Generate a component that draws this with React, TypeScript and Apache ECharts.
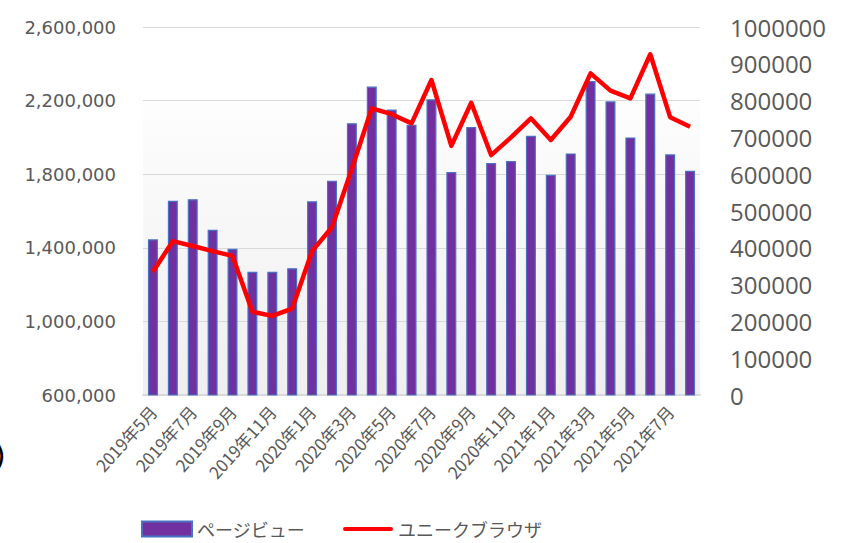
import React, { useEffect, useRef } from "react";
import * as echarts from "echarts";

const categories = [
  "2019年5月", "2019年6月", "2019年7月", "2019年8月", "2019年9月", "2019年10月", "2019年11月", "2019年12月",
  "2020年1月", "2020年2月", "2020年3月", "2020年4月", "2020年5月", "2020年6月", "2020年7月", "2020年8月",
  "2020年9月", "2020年10月", "2020年11月", "2020年12月", "2021年1月", "2021年2月", "2021年3月", "2021年4月",
  "2021年5月", "2021年6月", "2021年7月", "2021年8月",
];

const pageViews = [
  1446000, 1656000, 1664000, 1498000, 1395000, 1270000, 1270000, 1289000,
  1653000, 1765000, 2077000, 2276000, 2151000, 2069000, 2207000, 1812000,
  2056000, 1861000, 1872000, 2009000, 1797000, 1913000, 2306000, 2196000,
  2000000, 2238000, 1908000, 1819000,
];

const uniqueBrowsers = [
  335000, 418000, 405000, 391000, 378000, 226000, 215000, 235000,
  391000, 456000, 615000, 779000, 763000, 738000, 856000, 677000,
  794000, 652000, 700000, 752000, 693000, 756000, 874000, 827000,
  806000, 926000, 755000, 729000,
];

const seriesNames = ["ページビュー", "ユニークブラウザ"];

export default function App() {
  const ref = useRef<HTMLDivElement>(null);
  useEffect(() => {
    if (!ref.current) return;
    const chart = echarts.init(ref.current, null, { renderer: "svg" });
    chart.setOption({
      animation: false,
      backgroundColor: "#ffffff",
      grid: {
        left: 143,
        right: 148,
        top: 27,
        bottom: 148,
        show: true,
        borderWidth: 0,
        backgroundColor: {
          type: "linear",
          x: 0, y: 0, x2: 0, y2: 1,
          colorStops: [
            { offset: 0, color: "#ffffff" },
            { offset: 0.2, color: "#ffffff" },
            { offset: 0.201, color: "#fdfdfd" },
            { offset: 1, color: "#efefef" },
          ],
        },
      },
      legend: {
        left: 136,
        top: 515,
        itemWidth: 50,
        itemHeight: 15,
        itemGap: 38,
        textStyle: { fontSize: 18, color: "#595959", fontFamily: "Noto Sans CJK JP" },
        data: [
          { name: seriesNames[0], icon: "rect" },
          {
            name: seriesNames[1],
            icon: "path://M2,0 L48,0 A2,2 0 0 1 48,4 L2,4 A2,2 0 0 1 2,0 Z",
            itemStyle: { color: "#ff0000" },
          },
        ],
      },
      xAxis: {
        type: "category",
        data: categories,
        axisLine: { lineStyle: { color: "#d9d9d9", width: 2 } },
        axisTick: { show: false },
        axisLabel: {
          interval: 1,
          rotate: 48,
          fontSize: 17,
          color: "#595959",
          fontFamily: "Noto Sans CJK JP",
          margin: 13,
        },
      },
      yAxis: [
        {
          type: "value",
          min: 600000,
          max: 2600000,
          interval: 400000,
          axisLine: { show: false },
          axisTick: { show: false },
          splitLine: { lineStyle: { color: "#d9d9d9", width: 1 } },
          axisLabel: {
            fontSize: 18,
            color: "#595959",
            fontFamily: "DejaVu Sans",
            margin: 27,
            formatter: (v: number) => v.toLocaleString("en-US"),
          },
        },
        {
          type: "value",
          min: 0,
          max: 1000000,
          interval: 100000,
          axisLine: { show: false },
          axisTick: { show: false },
          splitLine: { show: false },
          axisLabel: {
            fontSize: 24,
            color: "#595959",
            fontFamily: "Open Sans",
            margin: 30,
            formatter: (v: number) => String(v),
          },
        },
      ],
      graphic: [
        {
          type: "text",
          left: -6,
          top: 440,
          style: { text: ")", fontSize: 30, fill: "#000000", fontFamily: "DejaVu Sans" },
        },
      ],
      series: [
        {
          name: seriesNames[0],
          type: "bar",
          yAxisIndex: 0,
          data: pageViews,
          barWidth: 10,
          itemStyle: { color: "#7030a0", borderColor: "#4a72c4", borderWidth: 1.2 },
        },
        {
          name: seriesNames[1],
          type: "line",
          yAxisIndex: 1,
          data: uniqueBrowsers,
          showSymbol: false,
          symbol: "none",
          lineStyle: { color: "#ff0000", width: 4.5, join: "round" },
          itemStyle: { color: "#ff0000" },
        },
      ],
    });
    return () => chart.dispose();
  }, []);
  return <div ref={ref} style={{ width: 848, height: 543, position: "absolute", left: 0, top: 0 }} />;
}
